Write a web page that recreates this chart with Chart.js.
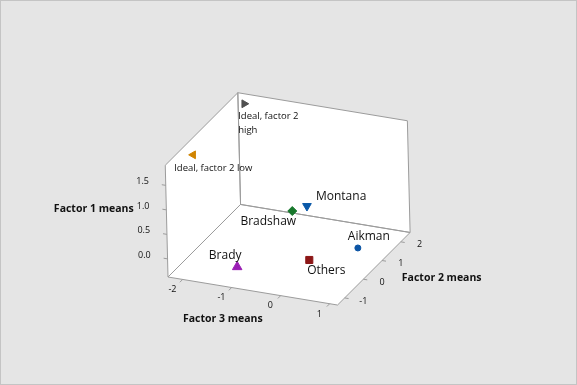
<!DOCTYPE html>
<html><head><meta charset="utf-8">
<script src="https://cdn.jsdelivr.net/npm/chart.js@4.4.1/dist/chart.umd.min.js"></script>
<style>html,body{margin:0;padding:0;background:#e5e5e5;overflow:hidden}canvas{display:block}</style>
</head><body>
<canvas id="c" width="577" height="385"></canvas>
<script>
// ---- data ----
const pointNames   = ["Ideal, factor 2 high", "Ideal, factor 2 low", "Montana", "Bradshaw", "Aikman", "Others", "Brady"];
const factor1Means = [1.79, 1.79, 0.30, 0.30, 0.10, -0.15, 0.00];
const factor2Means = [2.31, -0.42, 1.43, 1.09, 0.34, -0.02, -1.22];
const factor3Means = [-2.10, -2.10, -0.52, -0.69, 0.93, 0.07, -0.94];
const factor1Ticks = [0.0, 0.5, 1.0, 1.5];
const factor2Ticks = [-1, 0, 1, 2];
const factor3Ticks = [-2, -1, 0, 1];
const factor1Range = [-0.37, 1.91];
const factor2Range = [-1.38, 2.50];
const factor3Range = [-2.30, 1.16];
const axisTitles = ["Factor 1 means", "Factor 2 means", "Factor 3 means"];

// ---- styles / layout ----
const markerStyles = ["triangle", "triangle", "triangle", "rectRot", "circle", "rect", "triangle"];
const markerRot    = [90, -90, 180, 0, 0, 0, 0];
const markerColors = ["#505050", "#d08400", "#0a58a8", "#17782c", "#0c55a5", "#8c1616", "#9a1eb4"];
const markerSizes  = [4.5, 4.5, 5, 4.5, 3, 5, 5.5];
// label placement: dx, dy, align
const labelPlace = [[-6, 13, "left"], [-19, 13, "left"], [9, -9, "left"], [-24, 11, "center"], [11, -11, "center"], [17, 11, "center"], [-12, -11, "center"]];
const FONT = '"Segoe UI", "Open Sans", sans-serif';

// oblique projection of the 3D box into the view plane
const P0 = [168, 277];
const EX = [49, 8.1];     // per unit of factor 3
const EY = [18.7, -18.7]; // per unit of factor 2
const EZ = [-1.2, -49];   // per unit of factor 1
function proj(f3, f2, f1) {
  const a = f3 - factor3Range[0], b = f2 - factor2Range[0], c = f1 - factor1Range[0];
  return { x: P0[0] + a * EX[0] + b * EY[0] + c * EZ[0], y: P0[1] + a * EX[1] + b * EY[1] + c * EZ[1] };
}
function unit(v) { const l = Math.hypot(v[0], v[1]); return [v[0] / l, v[1] / l]; }

const points = pointNames.map((n, i) => proj(factor3Means[i], factor2Means[i], factor1Means[i]));

const box3d = {
  id: 'box3d',
  beforeDraw(chart) {
    const ctx = chart.ctx;
    ctx.save();
    ctx.fillStyle = '#e5e5e5';
    ctx.fillRect(0, 0, chart.width, chart.height);
    ctx.strokeStyle = '#c4c4c4';
    ctx.lineWidth = 1;
    ctx.strokeRect(0.5, 0.5, chart.width - 1, chart.height - 1);
    ctx.restore();
  },
  beforeDatasetsDraw(chart) {
    const { ctx, scales: { x, y } } = chart;
    const px = p => [x.getPixelForValue(p.x), y.getPixelForValue(p.y)];
    const [x0, x1] = factor3Range, [y0, y1] = factor2Range, [z0, z1] = factor1Range;
    const panels = [
      [proj(x0, y0, z0), proj(x1, y0, z0), proj(x1, y1, z0), proj(x0, y1, z0)], // floor
      [proj(x0, y0, z0), proj(x0, y1, z0), proj(x0, y1, z1), proj(x0, y0, z1)], // left wall
      [proj(x0, y1, z0), proj(x1, y1, z0), proj(x1, y1, z1), proj(x0, y1, z1)]  // back wall
    ];
    ctx.save();
    ctx.lineWidth = 1;
    ctx.strokeStyle = '#9c9c9c';
    ctx.fillStyle = '#ffffff';
    panels.forEach(pg => {
      ctx.beginPath();
      pg.forEach((p, i) => { const q = px(p); i ? ctx.lineTo(q[0], q[1]) : ctx.moveTo(q[0], q[1]); });
      ctx.closePath();
      ctx.fill();
    });
    panels.forEach(pg => {
      ctx.beginPath();
      pg.forEach((p, i) => { const q = px(p); i ? ctx.lineTo(q[0], q[1]) : ctx.moveTo(q[0], q[1]); });
      ctx.closePath();
      ctx.stroke();
    });
    // ticks and tick labels
    const ux = unit(EX), uy = unit(EY);
    ctx.fillStyle = '#111111';
    ctx.font = '9px ' + FONT;
    ctx.textAlign = 'center';
    ctx.textBaseline = 'middle';
    const tick = (p, d, len, lab, dist) => {
      const q = px(p);
      ctx.beginPath();
      ctx.moveTo(q[0], q[1]);
      ctx.lineTo(q[0] + d[0] * len, q[1] + d[1] * len);
      ctx.stroke();
      ctx.fillText(lab, q[0] + d[0] * dist, q[1] + d[1] * dist);
    };
    factor1Ticks.forEach(t => tick(proj(x0, y0, t), [-ux[0], -ux[1]], 4, t.toFixed(1), 23.5));
    factor3Ticks.forEach(t => tick(proj(t, y0, z0), [-uy[0], -uy[1]], 4, String(t), 14.5));
    factor2Ticks.forEach(t => tick(proj(x1, t, z0), [ux[0], ux[1]], 4, String(t), 19));
    // axis titles
    ctx.font = 'bold 10.5px ' + FONT;
    const m1 = px(proj(x0, y0, (z0 + z1) / 2));
    ctx.textAlign = 'right';
    ctx.fillText(axisTitles[0], m1[0] - 33, m1[1] - 12);
    const m2 = px(proj(x1, (y0 + y1) / 2, z0));
    ctx.textAlign = 'left';
    ctx.fillText(axisTitles[1], m2[0] + 28, m2[1] + 9);
    const m3 = px(proj((x0 + x1) / 2, y0, z0));
    ctx.textAlign = 'center';
    ctx.fillText(axisTitles[2], m3[0] - 30, m3[1] + 28);
    ctx.restore();
  },
  afterDatasetsDraw(chart) {
    const { ctx, scales: { x, y } } = chart;
    ctx.save();
    ctx.fillStyle = '#111111';
    ctx.textBaseline = 'middle';
    points.forEach((p, i) => {
      const qx = x.getPixelForValue(p.x), qy = y.getPixelForValue(p.y);
      const [dx, dy, al] = labelPlace[i];
      ctx.textAlign = al;
      if (i < 2) {
        ctx.font = '9.5px ' + FONT;
        if (i === 0) {
          ctx.fillText("Ideal, factor 2", qx + dx, qy + dy);
          ctx.fillText("high", qx + dx, qy + dy + 14);
        } else {
          ctx.fillText(pointNames[i], qx + dx, qy + dy);
        }
      } else {
        ctx.font = '12px ' + FONT;
        ctx.fillText(pointNames[i], qx + dx, qy + dy);
      }
    });
    ctx.restore();
  }
};

new Chart(document.getElementById('c'), {
  type: 'scatter',
  data: {
    datasets: [{
      label: 'Factor means',
      data: points,
      pointStyle: markerStyles,
      rotation: markerRot,
      backgroundColor: markerColors,
      borderColor: markerColors,
      borderWidth: 1,
      pointRadius: markerSizes,
      pointHoverRadius: markerSizes,
      showLine: false,
      clip: false
    }]
  },
  options: {
    responsive: false,
    animation: false,
    devicePixelRatio: 1,
    layout: { padding: 0, autoPadding: false },
    scales: {
      x: { type: 'linear', min: 0, max: 577, display: false },
      y: { type: 'linear', min: 0, max: 385, reverse: true, display: false }
    },
    plugins: { legend: { display: false }, tooltip: { enabled: false } }
  },
  plugins: [box3d]
});
</script>
</body></html>
